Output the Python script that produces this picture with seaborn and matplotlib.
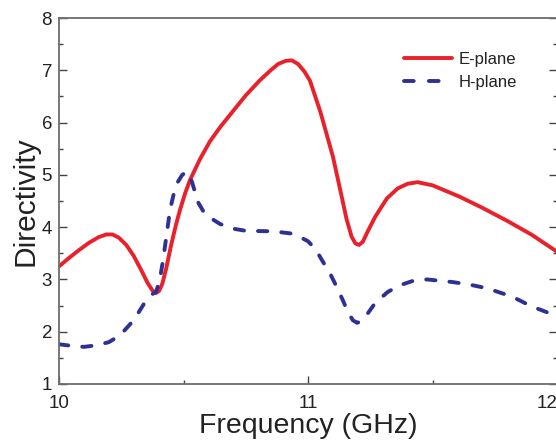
import matplotlib
matplotlib.use("Agg")
import matplotlib.pyplot as plt
import seaborn as sns
import pandas as pd
from matplotlib.ticker import MultipleLocator

# ---- data ----
e_freq = [10.0, 10.04, 10.08, 10.12, 10.16, 10.19, 10.215, 10.24, 10.27, 10.3,
          10.33, 10.355, 10.375, 10.39, 10.402, 10.415, 10.43, 10.45, 10.47,
          10.486, 10.506, 10.526, 10.546, 10.566, 10.606, 10.65, 10.699, 10.75,
          10.807, 10.85, 10.88, 10.91, 10.935, 10.96, 10.985, 11.008, 11.05,
          11.1, 11.13, 11.155, 11.175, 11.19, 11.205, 11.22, 11.24, 11.27,
          11.317, 11.36, 11.4, 11.44, 11.5, 11.61, 11.7, 11.8, 11.9, 12.0]
e_dir = [3.25, 3.41, 3.56, 3.7, 3.81, 3.86, 3.86, 3.8, 3.66, 3.45,
         3.18, 2.94, 2.79, 2.74, 2.78, 2.92, 3.2, 3.65, 4.05,
         4.33, 4.64, 4.9, 5.1, 5.3, 5.64, 5.93, 6.22, 6.52,
         6.81, 7.0, 7.12, 7.18, 7.19, 7.12, 6.98, 6.8, 6.2,
         5.35, 4.7, 4.15, 3.82, 3.69, 3.66, 3.72, 3.92, 4.2,
         4.55, 4.74, 4.83, 4.86, 4.8, 4.58, 4.37, 4.12, 3.85, 3.53]

h_freq = [10.0, 10.05, 10.1, 10.15, 10.2, 10.245, 10.3, 10.35, 10.375, 10.39,
          10.405, 10.418, 10.432, 10.446, 10.46, 10.474, 10.495, 10.51, 10.522,
          10.535, 10.558, 10.58, 10.6, 10.647, 10.7, 10.75, 10.86, 10.93,
          10.968, 11.0, 11.03, 11.056, 11.09, 11.116, 11.14, 11.16, 11.18,
          11.197, 11.215, 11.24, 11.27, 11.32, 11.37, 11.42, 11.478, 11.58,
          11.65, 11.72, 11.82, 11.9, 12.0]
h_dir = [1.76, 1.73, 1.71, 1.74, 1.8, 1.93, 2.22, 2.6, 2.72, 2.76,
         3.0, 3.37, 3.85, 4.33, 4.62, 4.84, 5.0, 5.05, 5.03,
         4.85, 4.48, 4.3, 4.2, 4.06, 3.97, 3.93, 3.92, 3.88,
         3.81, 3.73, 3.58, 3.37, 3.1, 2.85, 2.6, 2.38, 2.22,
         2.17, 2.2, 2.35, 2.55, 2.76, 2.89, 2.97, 3.0, 2.95,
         2.9, 2.83, 2.67, 2.48, 2.3]

series_names = ["E-plane", "H-plane"]
x_ticks = [10, 11, 12]
y_ticks = [1, 2, 3, 4, 5, 6, 7, 8]

sns.set_style("ticks")
plt.rcParams["font.family"] = ["Liberation Sans", "DejaVu Sans"]

fig = plt.figure(figsize=(5.56, 4.40), dpi=100)
ax = fig.add_axes([59 / 556, 1 - 384 / 440, 498 / 556, 366 / 440])

red = "#e8212b"
blue = "#2e3192"

df_e = pd.DataFrame({"Frequency": e_freq, "Directivity": e_dir})
df_h = pd.DataFrame({"Frequency": h_freq, "Directivity": h_dir})

sns.lineplot(data=df_e, x="Frequency", y="Directivity", ax=ax, color=red,
             lw=2.8, label=series_names[0], solid_capstyle="round",
             solid_joinstyle="round")
sns.lineplot(data=df_h, x="Frequency", y="Directivity", ax=ax, color=blue,
             lw=2.8, label=series_names[1], linestyle=(0, (2.4, 3.6)),
             dash_capstyle="round", dash_joinstyle="round")

ax.set_xlim(10, 12)
ax.set_ylim(1, 8)
ax.set_xticks(x_ticks)
ax.set_yticks(y_ticks)
ax.xaxis.set_minor_locator(MultipleLocator(0.5))
ax.yaxis.set_minor_locator(MultipleLocator(0.5))

spine_c = "#6d6d6d"
for s in ax.spines.values():
    s.set_color(spine_c)
    s.set_linewidth(1.3)

ax.tick_params(which="both", direction="in", color="#444444", width=1.0,
               right=True, top=False, labelsize=13.5, labelcolor="#222222")
ax.tick_params(which="major", length=6)
ax.tick_params(which="minor", length=3)
ax.tick_params(axis="x", which="major", pad=8)
ax.tick_params(axis="y", which="major", pad=5)

labels = ax.get_xticklabels()
labels[-1].set_horizontalalignment("right")

ax.set_xlabel("Frequency (GHz)", fontsize=20.5, color="#222222")
ax.set_ylabel("Directivity", fontsize=21.5, color="#222222")
ax.xaxis.set_label_coords(0.5, -0.08)
ax.yaxis.set_label_coords(-0.04, 0.5)

leg = ax.legend(loc="upper left", bbox_to_anchor=(404 / 556, 1 - 52 / 440),
                bbox_transform=fig.transFigure, frameon=False, fontsize=12,
                handlelength=2.9, handletextpad=0.35, labelspacing=0.45,
                borderpad=0, borderaxespad=0)
for t in leg.get_texts():
    t.set_color("#222222")
leg.get_lines()[1].set_linestyle((0, (2.5, 3.9)))

fig.savefig("out.png", dpi=100)
